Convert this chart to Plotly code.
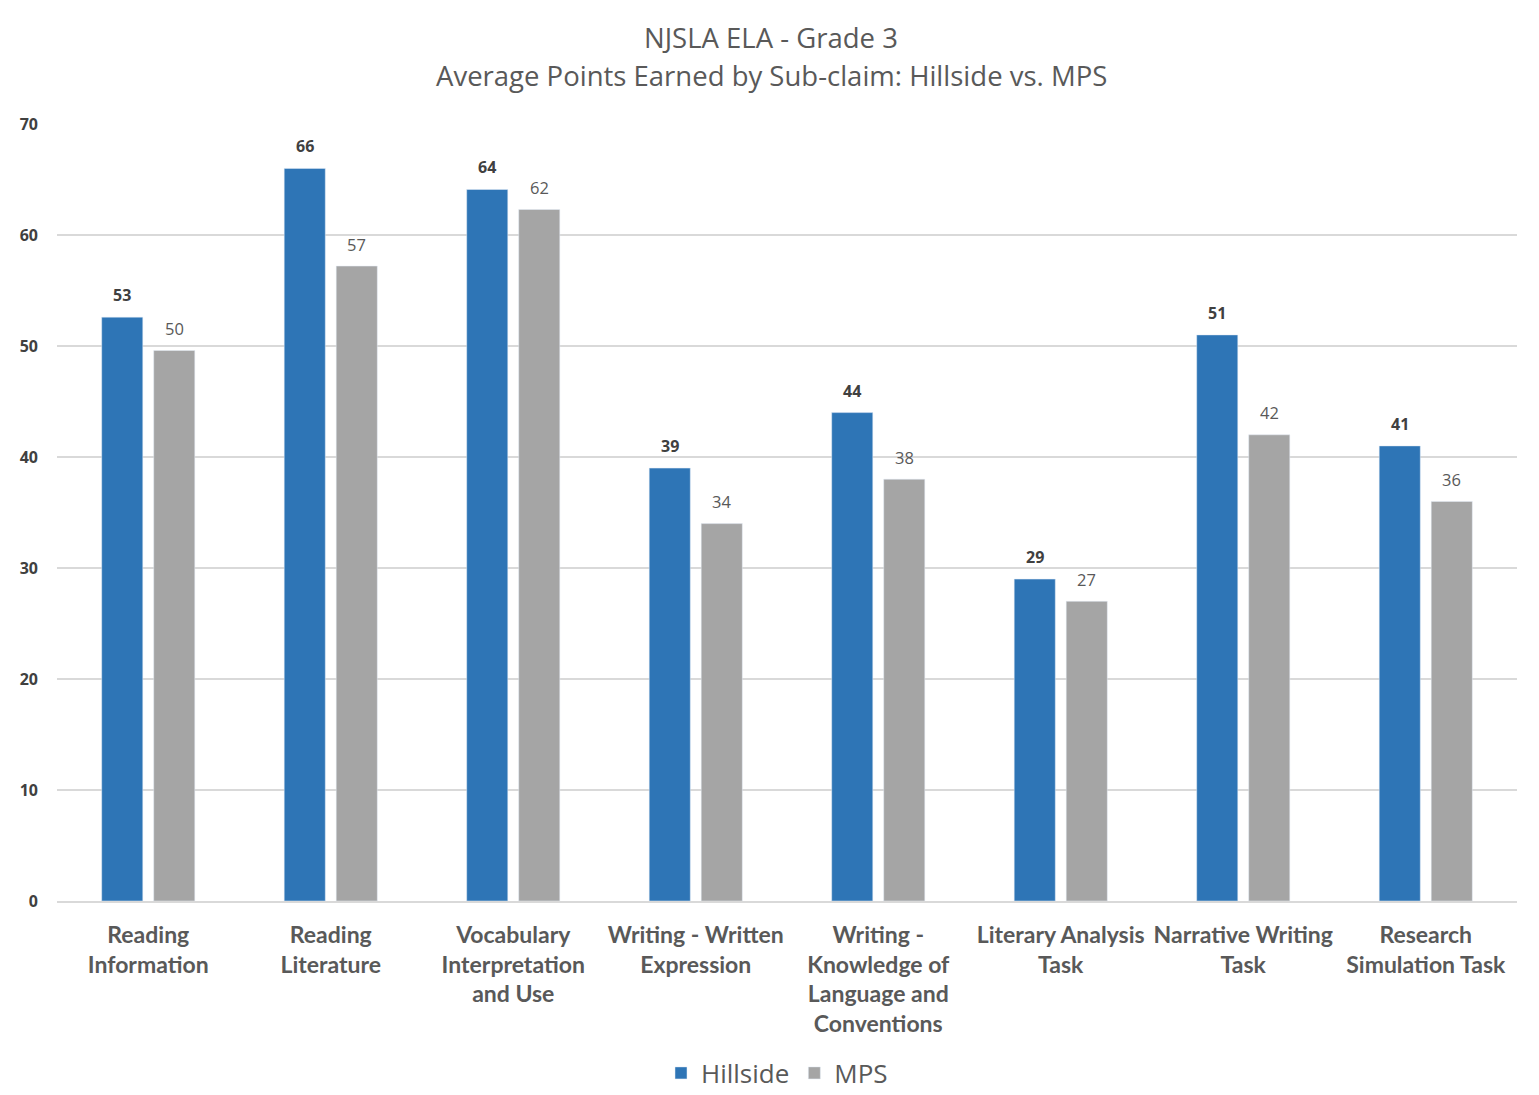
import plotly.graph_objects as go

categories = [
    "Reading<br>Information",
    "Reading<br>Literature",
    "Vocabulary<br>Interpretation<br>and Use",
    "Writing - Written<br>Expression",
    "Writing -<br>Knowledge of<br>Language and<br>Conventions",
    "Literary Analysis<br>Task",
    "Narrative Writing<br>Task",
    "Research<br>Simulation Task",
]
hillside = [52.6, 66.0, 64.1, 39.0, 44.0, 29.0, 51.0, 41.0]
mps = [49.6, 57.2, 62.3, 34.0, 38.0, 27.0, 42.0, 36.0]
y_ticks = [0, 10, 20, 30, 40, 50, 60, 70]
title_lines = ["NJSLA ELA - Grade 3", "Average Points Earned by Sub-claim: Hillside vs. MPS"]

W, H = 1531, 1087
L, R, T, B = 49, 22, 116, 194
PH = H - T - B
PW = W - L - R

fig = go.Figure()
fig.add_trace(go.Bar(
    name="Hillside", x=categories, y=hillside,
    marker=dict(color="#2E75B6"),
))
fig.add_trace(go.Bar(
    name="MPS", x=categories, y=mps,
    marker=dict(color="#A5A5A5"),
))


def py(fig_y):
    return (H - B - fig_y) / PH


def px(fig_x):
    return (fig_x - L) / PW


annotations = [
    dict(text=title_lines[0], xref="paper", yref="paper", x=px(763), y=py(30),
         xanchor="center", yanchor="middle", showarrow=False,
         font=dict(family="Open Sans", size=27.5, color="#595959")),
    dict(text=title_lines[1], xref="paper", yref="paper", x=px(763), y=py(68),
         xanchor="center", yanchor="middle", showarrow=False,
         font=dict(family="Open Sans", size=27.5, color="#595959")),
]
for c, h, m in zip(categories, hillside, mps):
    annotations.append(dict(
        x=c, y=h, xref="x", yref="y", text=f"<b>{h:.0f}</b>", showarrow=False,
        xshift=-26, yshift=22, xanchor="center", yanchor="middle",
        font=dict(family="Open Sans", size=16, color="#404040"),
    ))
    annotations.append(dict(
        x=c, y=m, xref="x", yref="y", text=f"{m:.0f}", showarrow=False,
        xshift=26, yshift=22, xanchor="center", yanchor="middle",
        font=dict(family="Open Sans", size=16.5, color="#595959"),
    ))

fig.update_layout(
    width=W, height=H,
    paper_bgcolor="white", plot_bgcolor="white",
    margin=dict(l=L, r=R, t=T, b=B),
    bargap=0.43, bargroupgap=0.21,
    showlegend=True,
    legend=dict(
        orientation="h", x=px(769), xanchor="center",
        yref="container", y=1 - 1065 / H, yanchor="middle",
        font=dict(family="Open Sans", size=26, color="#595959"),
        tracegroupgap=0, itemwidth=30,
    ),
    xaxis=dict(
        showline=True, linecolor="#d9d9d9", linewidth=2,
        tickfont=dict(family="Lato", size=23, color="#595959", weight="bold"),
        ticks="", ticklabelstandoff=12,
    ),
    yaxis=dict(
        range=[0, 70], tickvals=y_ticks,
        showgrid=True, gridcolor="#d9d9d9", gridwidth=1.5,
        zeroline=False, showline=False,
        tickfont=dict(family="Open Sans", size=16, color="#404040", weight="bold"),
        ticklabelstandoff=18,
    ),
    annotations=annotations,
)

fig.write_html("out.html")
